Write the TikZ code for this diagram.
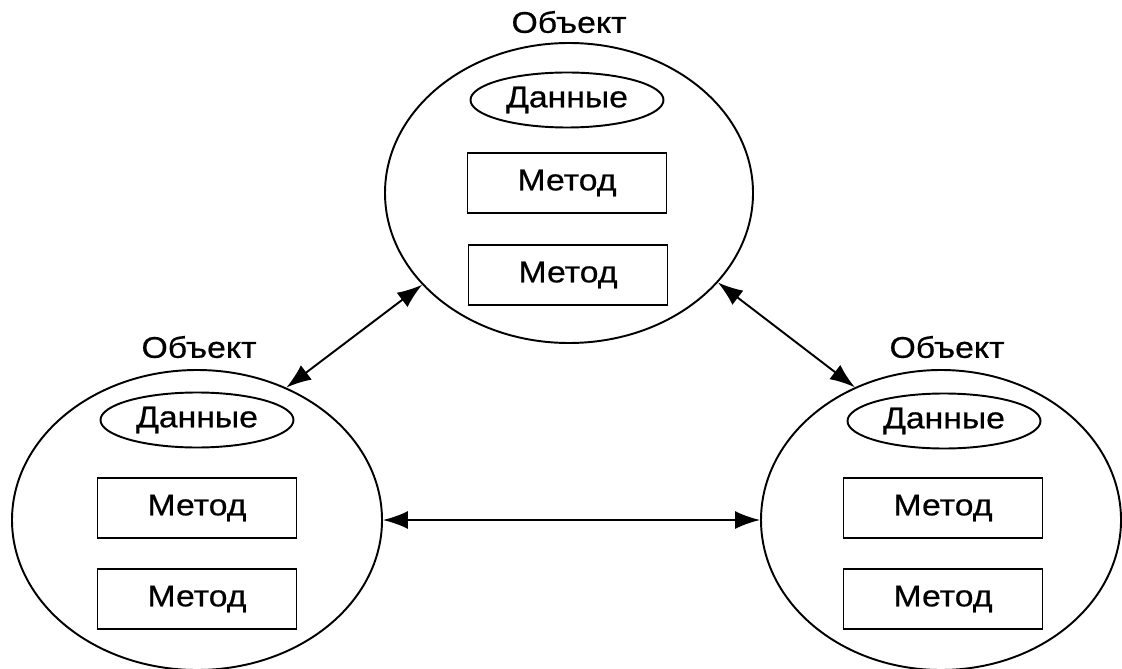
\documentclass[tikz,border=0pt]{standalone}
\usepackage{fontspec}
\setmainfont[FakeStretch=1.13,FakeBold=0.6]{Liberation Sans}
\usetikzlibrary{shapes.geometric,arrows.meta}

\begin{document}
\begin{tikzpicture}[
    obj/.style={draw, ellipse, line width=1.1pt, inner sep=0pt, minimum height=6cm},
    data/.style={draw, ellipse, line width=1.1pt, inner sep=0pt, minimum width=3.86cm, minimum height=1.1cm},
    method/.style={draw, rectangle, line width=1.1pt, inner sep=0pt, minimum width=3.98cm, minimum height=1.2cm},
    link/.style={line width=1.1pt, {Latex[length=5mm,width=3.6mm]}-{Latex[length=5mm,width=3.6mm]}},
    every node/.style={font=\fontsize{17}{19}\selectfont}
  ]
  \useasboundingbox (0,0) rectangle (22.44,13.36);

  % Object at the top
  \node [obj, minimum width=7.36cm] (objT) at (11.38,9.50) {};
  \node (labT) at (11.38,12.92) {Объект};
  \node [data] (dataT) at (11.34,11.36) {Данные};
  \node [method] (methT1) at (11.34,9.70) {Метод};
  \node [method] (methT2) at (11.36,7.86) {Метод};

  % Object on the left
  \node [obj, minimum width=7.4cm] (objL) at (3.94,2.96) {};
  \node (labL) at (3.98,6.42) {Объект};
  \node [data] (dataL) at (3.94,4.96) {Данные};
  \node [method] (methL1) at (3.94,3.20) {Метод};
  \node [method] (methL2) at (3.94,1.38) {Метод};

  % Object on the right
  \node [obj, minimum width=7.2cm] (objR) at (18.82,2.96) {};
  \node (labR) at (18.94,6.42) {Объект};
  \node [data] (dataR) at (18.88,4.94) {Данные};
  \node [method] (methR1) at (18.86,3.20) {Метод};
  \node [method] (methR2) at (18.86,1.38) {Метод};

  % Messages between the objects
  \draw [link] (objT.212) -- (objL.56);
  \draw [link] (objT.329) -- (objR.123);
  \draw [link] (objL.east) -- (objR.west);
\end{tikzpicture}
\end{document}
